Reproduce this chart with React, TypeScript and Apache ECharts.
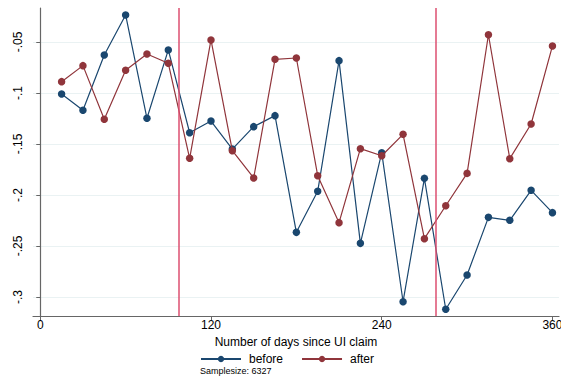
import React, { useEffect, useRef } from "react";
import * as echarts from "echarts";

const days = [15, 30, 45, 60, 75, 90, 105, 120, 135, 150, 165, 180, 195, 210, 225, 240, 255, 270, 285, 300, 315, 330, 345, 360];
const before = [-0.101, -0.117, -0.0627, -0.0235, -0.1248, -0.0578, -0.139, -0.1275, -0.155, -0.133, -0.1222, -0.2366, -0.1964, -0.0683, -0.2474, -0.1585, -0.3046, -0.1837, -0.312, -0.2784, -0.2219, -0.2248, -0.1954, -0.2173];
const after = [-0.0889, -0.0732, -0.1258, -0.0778, -0.0618, -0.0709, -0.164, -0.048, -0.1566, -0.1833, -0.067, -0.0657, -0.1811, -0.2271, -0.1546, -0.1615, -0.1405, -0.2428, -0.2105, -0.1788, -0.0429, -0.1644, -0.1304, -0.0539];
const yTicks = [-0.3, -0.25, -0.2, -0.15, -0.1, -0.05];
const yTickLabels = ["-.3", "-.25", "-.2", "-.15", "-.1", "-.05"];
const xTicks = [0, 120, 240, 360];
const cutoffs = [97.5, 278];
const sampleSize = 6327;

const FONT = "Liberation Sans, Arial, sans-serif";
const BLUE = "#1a476f";
const RED = "#90353b";

export default function App() {
  const ref = useRef<HTMLDivElement>(null);
  useEffect(() => {
    if (!ref.current) return;
    const chart = echarts.init(ref.current, null, { renderer: "svg" });
    chart.setOption({
      animation: false,
      backgroundColor: "#ffffff",
      textStyle: { fontFamily: FONT },
      grid: { left: 33, top: 8, width: 526, height: 308, containLabel: false, outerBoundsMode: "none" },
      xAxis: {
        type: "value",
        min: -5.1,
        max: 364.6,
        name: "Number of days since UI claim",
        nameLocation: "middle",
        nameGap: 18,
        nameTextStyle: { fontSize: 12, color: "#000", fontFamily: FONT },
        axisLine: { show: true, lineStyle: { color: "#666", width: 1.2 } },
        axisTick: { show: true, length: 4, lineStyle: { color: "#666" }, customValues: xTicks },
        axisLabel: { color: "#000", fontSize: 12, margin: 3, customValues: xTicks, fontFamily: FONT },
        splitLine: { show: false },
      },
      yAxis: {
        type: "value",
        min: -0.3186,
        max: -0.0167,
        axisLine: { show: true, lineStyle: { color: "#666", width: 1.2 } },
        axisTick: { show: true, length: 4, lineStyle: { color: "#666" }, customValues: yTicks },
        axisLabel: {
          color: "#000",
          fontSize: 12,
          rotate: 90,
          margin: 9,
          customValues: yTicks,
          fontFamily: FONT,
          formatter: (v: number) => {
            const i = yTicks.findIndex((t) => Math.abs(t - v) < 1e-6);
            return i >= 0 ? yTickLabels[i] : "";
          },
        },
        splitLine: { show: false },
      },
      legend: {
        left: 200,
        top: 353,
        padding: 0,
        itemWidth: 40,
        itemHeight: 8,
        itemGap: 18,
        textStyle: { fontSize: 12, color: "#000", fontFamily: FONT, padding: [0, 0, 0, 3] },
        data: ["before", "after"],
      },
      graphic: [
        {
          type: "text",
          left: 200,
          top: 366,
          style: { text: "Samplesize: " + sampleSize, fontSize: 9, fill: "#000", fontFamily: FONT },
        },
      ],
      series: [
        {
          name: "grid",
          type: "line",
          data: [],
          silent: true,
          z: 0,
          markLine: {
            silent: true,
            symbol: "none",
            z: 0,
            label: { show: false },
            lineStyle: { color: "#eaf2f3", width: 1.2, type: "solid" },
            data: yTicks.map((t) => ({ yAxis: t })),
          },
        },
        {
          name: "before",
          type: "line",
          data: days.map((d, i) => [d, before[i]]),
          symbol: "circle",
          symbolSize: 7.5,
          lineStyle: { color: BLUE, width: 1.2 },
          itemStyle: { color: BLUE },
          z: 3,
        },
        {
          name: "after",
          type: "line",
          data: days.map((d, i) => [d, after[i]]),
          symbol: "circle",
          symbolSize: 7.5,
          lineStyle: { color: RED, width: 1.2 },
          itemStyle: { color: RED },
          z: 4,
          markLine: {
            silent: true,
            symbol: "none",
            label: { show: false },
            lineStyle: { color: "#dc4f70", width: 1.5, type: "solid" },
            data: cutoffs.map((c) => ({ xAxis: c })),
          },
        },
      ],
    });
    return () => chart.dispose();
  }, []);
  return <div ref={ref} style={{ width: 561, height: 379, position: "absolute", left: 0, top: 0 }} />;
}
